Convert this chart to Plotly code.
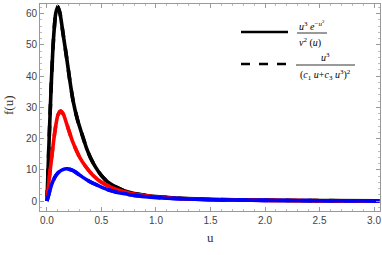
import plotly.graph_objects as go

# ---- data ----
u_black = [0, 0.02, 0.04, 0.06, 0.08, 0.10, 0.12, 0.15, 0.18, 0.21, 0.24, 0.28, 0.32, 0.36,
           0.40, 0.45, 0.50, 0.56, 0.63, 0.70, 0.80, 0.90, 1.0, 1.2, 1.5, 2.0, 2.5, 3.05]
f_black = [0, 20, 38, 52, 60, 62.3, 60, 53, 46, 38.5, 32, 26, 21.5, 17.2,
           13.8, 10.6, 8.1, 6.0, 4.5, 3.4, 2.4, 1.8, 1.4, 0.9, 0.5, 0.25, 0.13, 0.07]

u_red = [0, 0.02, 0.04, 0.06, 0.08, 0.10, 0.125, 0.15, 0.18, 0.21, 0.24, 0.27, 0.30, 0.36,
         0.42, 0.50, 0.60, 0.70, 0.80, 0.90, 1.0, 1.2, 1.5, 2.0, 2.5, 3.05]
f_red = [0, 7, 13, 19, 24, 27.5, 28.8, 27.8, 24.8, 21.6, 18.6, 16.2, 14.0, 10.8,
         8.3, 6.0, 4.2, 3.0, 2.2, 1.7, 1.3, 0.8, 0.45, 0.2, 0.1, 0.05]

u_blue = [0, 0.02, 0.04, 0.07, 0.10, 0.14, 0.19, 0.24, 0.30, 0.36, 0.42, 0.49, 0.56, 0.63,
          0.70, 0.80, 0.90, 1.0, 1.2, 1.5, 2.0, 2.5, 3.05]
f_blue = [0, 2.5, 5.0, 7.5, 9.0, 10.0, 10.3, 9.7, 8.3, 6.9, 5.7, 4.6, 3.6, 2.9,
          2.4, 1.8, 1.4, 1.1, 0.75, 0.45, 0.2, 0.1, 0.05]

x_ticks = [0.0, 0.5, 1.0, 1.5, 2.0, 2.5, 3.0]
x_tick_labels = ["0.0", "0.5", "1.0", "1.5", "2.0", "2.5", "3.0"]
y_ticks = [0, 10, 20, 30, 40, 50, 60]
y_tick_labels = ["0", "10", "20", "30", "40", "50", "60"]

W, H = 382, 255
L, R, T, B = 40, 2, 4, 44


def px(x):
    return (x - L) / (W - L - R)


def py(y):
    return (H - B - y) / (H - T - B)


fig = go.Figure()
series = [(u_black, f_black, "black"), (u_red, f_red, "#ff0000"), (u_blue, f_blue, "#0000ff")]
for u, f, c in series:
    fig.add_trace(go.Scatter(x=u, y=f, mode="lines", line=dict(color=c, width=3.6, shape="spline", smoothing=0.6),
                             showlegend=False, hoverinfo="skip"))
    fig.add_trace(go.Scatter(x=u, y=f, mode="lines", line=dict(color=c, width=3.6, dash="dash", shape="spline", smoothing=0.6),
                             showlegend=False, hoverinfo="skip"))

axis_common = dict(
    showgrid=False, zeroline=False, showline=True, linecolor="#999999", linewidth=1,
    mirror="ticks", ticks="inside", ticklen=4, tickcolor="#999999", tickwidth=1,
    automargin=False, ticklabeloverflow="allow",
    tickfont=dict(family="Liberation Sans, Arial, sans-serif", size=10, color="#444444"),
)
fig.update_xaxes(range=[-0.064, 3.055], tickvals=x_ticks, ticktext=x_tick_labels,
                 minor=dict(ticks="inside", ticklen=2, tickcolor="#bbbbbb", dtick=0.1, showgrid=False),
                 **axis_common)
fig.update_yaxes(range=[-3.2, 63.1], tickvals=y_ticks, ticktext=y_tick_labels,
                 minor=dict(ticks="inside", ticklen=2, tickcolor="#bbbbbb", dtick=2, showgrid=False),
                 **axis_common)

shapes = []
# legend line samples
shapes.append(dict(type="line", xref="paper", yref="paper", x0=px(241), x1=px(288), y0=py(32), y1=py(32),
                   line=dict(color="black", width=2.6)))
shapes.append(dict(type="line", xref="paper", yref="paper", x0=px(241), x1=px(287), y0=py(64), y1=py(64),
                   line=dict(color="black", width=2.6, dash="dash")))
# fraction bars
shapes.append(dict(type="line", xref="paper", yref="paper", x0=px(297), x1=px(327), y0=py(33), y1=py(33),
                   line=dict(color="black", width=0.8)))
shapes.append(dict(type="line", xref="paper", yref="paper", x0=px(296), x1=px(355), y0=py(65), y1=py(65),
                   line=dict(color="black", width=0.8)))

mf = dict(family="Liberation Serif, Times New Roman, serif", size=10, color="black")
tf = dict(family="Liberation Serif, Times New Roman, serif", size=13, color="#333333")
annotations = [
    dict(text="<i>u</i><sup>3</sup> <i>e</i><sup>−<i>u</i><sup>2</sup></sup>", x=px(312), y=py(25), font=mf),
    dict(text="<i>v</i><sup>2</sup> (<i>u</i>)", x=px(310), y=py(42), font=mf),
    dict(text="<i>u</i><sup>3</sup>", x=px(325), y=py(57), font=mf),
    dict(text="(<i>c</i><sub>1</sub> <i>u</i>+<i>c</i><sub>3</sub> <i>u</i><sup>3</sup>)<sup>2</sup>", x=px(325), y=py(75), font=mf),
    dict(text="u", x=px(210), y=py(237), font=tf),
    dict(text="f(u)", x=px(9), y=py(105), font=tf, textangle=-90),
]
for a in annotations:
    a.update(xref="paper", yref="paper", showarrow=False, xanchor="center", yanchor="middle")

fig.update_layout(width=W, height=H, margin=dict(l=L, r=R, t=T, b=B),
                  paper_bgcolor="white", plot_bgcolor="white",
                  shapes=shapes, annotations=annotations)

fig.write_html("out.html", config={"displayModeBar": False},
               post_script="document.body.style.margin='0px';document.body.style.overflow='hidden';")
